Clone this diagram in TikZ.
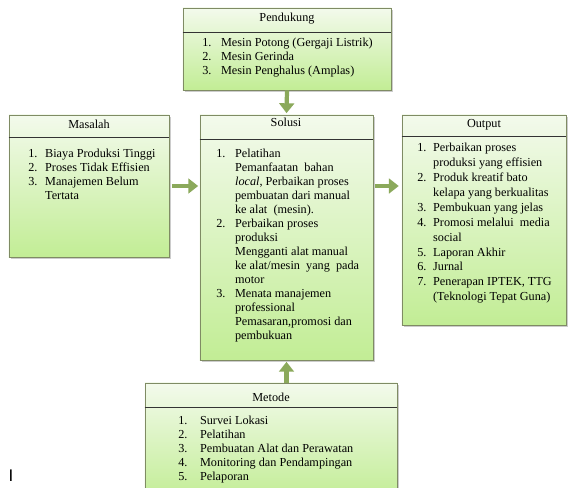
\documentclass[tikz,border=0pt]{standalone}
\usepackage{fontspec}
\setmainfont{Liberation Serif}
\setsansfont{Liberation Sans}
\usepackage{tikz}
\usetikzlibrary{arrows.meta,shadows}

\definecolor{boxtop}{HTML}{F3FAEC}
\definecolor{boxbottom}{HTML}{C2ED95}
\definecolor{boxline}{HTML}{7F8B64}
\definecolor{arrowgreen}{HTML}{8BA95B}

\newcommand{\numlist}[2]{\begin{tabular}{@{}p{#1}@{}l@{}}#2\end{tabular}}

\begin{document}
\begin{tikzpicture}[x=0.025cm,y=-0.025cm,font=\fontsize{8.7}{10}\selectfont]
\tikzset{box/.style = {draw=boxline, line width=0.6pt, top color=boxtop, bottom color=boxbottom,
  drop shadow={shadow xshift=1.2pt, shadow yshift=-1.2pt, opacity=0.4}, inner sep=0pt}}
\tikzset{head/.style = {inner sep=0pt}}
\tikzset{list/.style = {anchor=north west, inner sep=0pt}}
\tikzset{sep/.style = {draw=black!80, line width=0.5pt}}
\tikzset{arrow/.style = {draw=arrowgreen, line width=3pt, -{Triangle[width=10.5pt,length=7pt]}}}

\clip (0,0) rectangle (568,488);
\fill[white] (0,0) rectangle (568,488);

% boxes
\node[box, minimum width=5.2cm, minimum height=2.05cm] (pend) at (287,49) {};
\node[box, minimum width=4cm, minimum height=3.55cm] (mas) at (89,186) {};
\node[box, minimum width=4.325cm, minimum height=6.125cm] (sol) at (286.5,237.5) {};
\node[box, minimum width=4.1cm, minimum height=5.25cm] (out) at (484,220) {};
\node[box, minimum width=6.3cm, minimum height=2.925cm] (met) at (271,441.5) {};

\draw[sep] ([yshift=-0.625cm]pend.north west) -- ([yshift=-0.625cm]pend.north east);
\draw[sep] ([yshift=-0.575cm]mas.north west) -- ([yshift=-0.575cm]mas.north east);
\draw[sep] ([yshift=-0.625cm]sol.north west) -- ([yshift=-0.625cm]sol.north east);
\draw[sep] ([yshift=-0.55cm]out.north west) -- ([yshift=-0.55cm]out.north east);
\draw[sep] ([yshift=-0.625cm]met.north west) -- ([yshift=-0.625cm]met.north east);

% headers
\node[head] (pendhead) at (287,19) {Pendukung};
\node[head] (mashead) at (89,124) {Masalah};
\node[head] (solhead) at (286,122) {Solusi};
\node[head] (outhead) at (484,125) {Output};
\node[head] (methead) at (271,397) {Metode};

% lists
\node[list] (pendlist) at (202,36) {\numlist{13.4pt}{
1. & Mesin Potong (Gergaji Listrik)\\
2. & Mesin Gerinda\\
3. & Mesin Penghalus (Amplas)}};

\node[list] (maslist) at (28,147) {\numlist{12pt}{
1. & Biaya Produksi Tinggi\\
2. & Proses Tidak Effisien\\
3. & Manajemen Belum\\
   & Tertata}};

\node[list] (sollist) at (216,147) {\numlist{13.4pt}{
1. & Pelatihan\\
   & Pemanfaatan\ \ bahan\\
   & \textit{local}, Perbaikan proses\\
   & pembuatan dari manual\\
   & ke alat\ \ (mesin).\\
2. & Perbaikan proses\\
   & produksi\\
   & Mengganti alat manual\\
   & ke alat/mesin\ \ yang\ \ pada\\
   & motor\\
3. & Menata manajemen\\
   & professional\\
   & Pemasaran,promosi dan\\
   & pembukuan}};

\node[list] (outlist) at (417,141) {\renewcommand{\arraystretch}{1.06}\numlist{11.3pt}{
1. & Perbaikan proses\\
   & produksi yang effisien\\
2. & Produk kreatif bato\\
   & kelapa yang berkualitas\\
3. & Pembukuan yang jelas\\
4. & Promosi melalui\ \ media\\
   & social\\
5. & Laporan Akhir\\
6. & Jurnal\\
7. & Penerapan IPTEK, TTG\\
   & (Teknologi Tepat Guna)}};

\node[list] (metlist) at (178,414) {\numlist{15.5pt}{
1. & Survei Lokasi\\
2. & Pelatihan\\
3. & Pembuatan Alat dan Perawatan\\
4. & Monitoring dan Pendampingan\\
5. & Pelaporan}};

% arrows
\draw[arrow, shorten >=1pt] (pend.south) -- (sol.north);
\draw[arrow, shorten <=2pt, shorten >=1pt] (mas.east) -- (mas.east -| sol.west);
\draw[arrow, shorten <=1pt, shorten >=2pt] (sol.east |- mas.east) -- (out.west |- mas.east);
\draw[arrow, shorten >=1pt] (met.north -| sol.south) -- (sol.south);

\node[inner sep=0pt] (cursor) at (11,476) {\sffamily\fontsize{12}{12}\selectfont I};
\end{tikzpicture}
\end{document}
